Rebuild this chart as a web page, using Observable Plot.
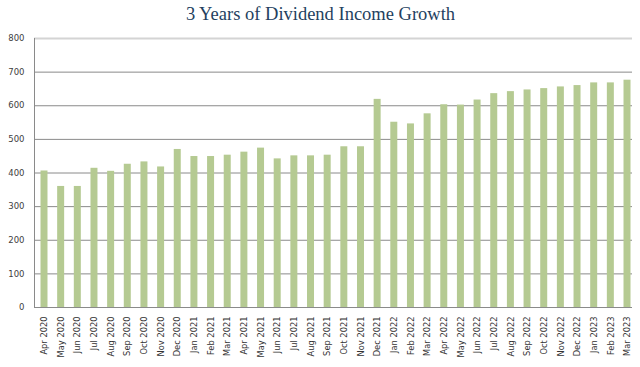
<!DOCTYPE html>
<html>
<head>
<meta charset="utf-8">
<script src="https://cdn.jsdelivr.net/npm/d3@7"></script>
<script src="https://cdn.jsdelivr.net/npm/@observablehq/plot@0.6"></script>
<style>
  html, body { margin: 0; padding: 0; background: #fff; }
  #chart { width: 640px; height: 367px; }
</style>
</head>
<body>
<div id="chart"></div>
<script>
const title = "3 Years of Dividend Income Growth";
const months = [
  "Apr 2020","May 2020","Jun 2020","Jul 2020","Aug 2020","Sep 2020","Oct 2020","Nov 2020","Dec 2020",
  "Jan 2021","Feb 2021","Mar 2021","Apr 2021","May 2021","Jun 2021","Jul 2021","Aug 2021","Sep 2021",
  "Oct 2021","Nov 2021","Dec 2021","Jan 2022","Feb 2022","Mar 2022","Apr 2022","May 2022","Jun 2022",
  "Jul 2022","Aug 2022","Sep 2022","Oct 2022","Nov 2022","Dec 2022","Jan 2023","Feb 2023","Mar 2023"
];
const income = [
  406, 360, 360, 414, 405, 426, 433, 418, 470,
  449, 449, 453, 462, 474, 442, 451, 451, 453,
  478, 478, 619, 551, 546, 576, 603, 602, 617,
  636, 642, 647, 651, 656, 660, 668, 668, 676
];
const yTicks = [0, 100, 200, 300, 400, 500, 600, 700, 800];

const data = months.map((m, i) => ({month: m, value: income[i]}));

const chart = Plot.plot({
  width: 640,
  height: 367,
  marginTop: 38,
  marginBottom: 60,
  marginLeft: 34,
  marginRight: 8,
  style: {background: "#fff"},
  x: {domain: months, range: [40.5, 630.5], round: false, paddingInner: 0.58, paddingOuter: 0, label: null},
  y: {domain: [0, 800], label: null},
  marks: [
    Plot.ruleY(yTicks.filter(d => d !== 800), {stroke: "#8a8a8a", strokeWidth: 1}),
    Plot.ruleY([800], {stroke: "#d4d4d4", strokeWidth: 2}),
    Plot.barY(data, {x: "month", y: "value", fill: "#b5ca92"}),
    Plot.frame({anchor: "left", stroke: "#8a8a8a"}),
    Plot.axisY(yTicks, {tickSize: 0, tickPadding: 10, fontSize: 8.5, fill: "#404040", fontFamily: "DejaVu Sans"}),
    Plot.axisX({tickSize: 0, tickPadding: 9, tickRotate: -90, fontSize: 8.3, fill: "#333333", fontFamily: "DejaVu Sans"}),
    Plot.text([title], {frameAnchor: "top", dx: -13, dy: -24, fontSize: 18.5, fill: "#243f60", fontFamily: "Liberation Serif", lineAnchor: "middle"})
  ]
});
document.getElementById("chart").appendChild(chart);
</script>
</body>
</html>
